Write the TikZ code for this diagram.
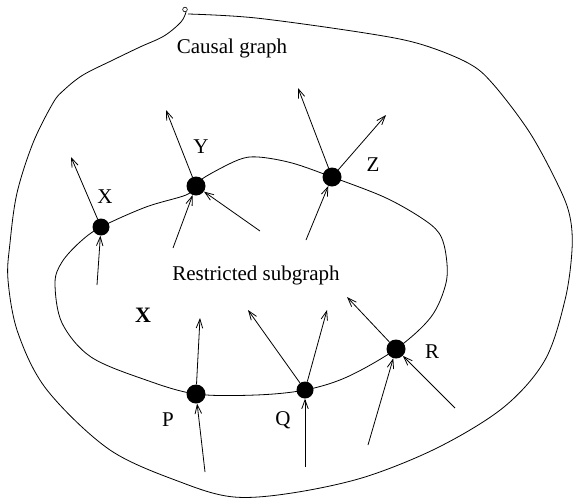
\documentclass[tikz,border=0pt]{standalone}
\usepackage{fontspec}
\setmainfont{Liberation Serif}
\usetikzlibrary{arrows.meta}
\begin{document}
\begin{tikzpicture}[x=1pt,y=-1pt,
  curve/.style={line width=0.8pt},
  dot/.style={circle,fill=black,inner sep=0pt,minimum size=19pt},
  smalldot/.style={circle,fill=black,inner sep=0pt,minimum size=17pt},
  lbl/.style={font=\fontsize{21}{24}\selectfont,inner sep=0pt},
  arr/.style={line width=0.8pt,-{Straight Barb[length=9pt,width=6.5pt,line width=0.8pt]}}]
\useasboundingbox (0,0) rectangle (573,498);
% outer curve (causal graph)
\draw[curve] plot[smooth,tension=0.55] coordinates {
 (188,14) (256,18) (365,33) (420,44) (468,63) (493,84) (530,133) (559,187)
 (570,217) (572,250) (565,300) (545,360) (504,407) (439,447) (365,477)
 (292,493) (234,497) (183,483) (110,450) (47,390) (18,333) (8,280) (10,243)
 (17,193) (33,143) (53,103) (64,90) (83,75) (113,60) (140,47) (164,36) (181,22) (186,12)};
\draw[line width=0.6pt] (185,9.5) circle [radius=2.3pt];
% inner curve (restricted subgraph)
\draw[curve] plot[smooth cycle,tension=0.55] coordinates {
 (101,227) (146,207) (186,195) (196,186) (205,177) (238,160) (258,157)
 (292,163) (332,177) (384,197) (420,217) (439,233) (446,255) (446,283)
 (431,317) (396,349) (347,377) (305,390) (256,395) (196,394) (146,380)
 (91,357) (62,323) (55,283) (62,262) (80,242)};
% nodes
\node[smalldot] (X) at (101,227) {};
\node[dot] (Y) at (196,186) {};
\node[dot] (Z) at (332,177) {};
\node[dot] (R) at (396,349) {};
\node[smalldot] (Q) at (305,390) {};
\node[dot] (P) at (196,394) {};
% labels
\node[lbl] (lX) at (105,197) {X};
\node[lbl] (lY) at (201,147) {Y};
\node[lbl] (lZ) at (373,165) {Z};
\node[lbl] (lR) at (432,352) {R};
\node[lbl] (lQ) at (283,420) {Q};
\node[lbl] (lP) at (168,420) {P};
\node[font=\fontsize{22}{26}\selectfont\bfseries,inner sep=0pt] (bX) at (143,315) {X};
\node[lbl] (cg) at (232,48) {Causal graph};
\node[lbl] (rs) at (256,275) {Restricted subgraph};
% free ends
\coordinate (x1) at (71,157);
\coordinate (x2) at (97,285);
\coordinate (y1) at (166,110);
\coordinate (y2) at (173,248);
\coordinate (y3) at (260,231);
\coordinate (z1) at (298,88);
\coordinate (z2) at (386,115);
\coordinate (z3) at (306,240);
\coordinate (p1) at (200,318);
\coordinate (p2) at (205,472);
\coordinate (q1) at (248,310);
\coordinate (q2) at (327,310);
\coordinate (q3) at (305,467);
\coordinate (r1) at (347,297);
\coordinate (r2) at (368,445);
\coordinate (r3) at (455,408);
% arrows
\draw[arr] (X) -- (x1);
\draw[arr] (x2) -- (X);
\draw[arr] (Y) -- (y1);
\draw[arr] (y2) -- (Y);
\draw[arr] (y3) -- (Y);
\draw[arr] (Z) -- (z1);
\draw[arr] (Z) -- (z2);
\draw[arr] (z3) -- (Z);
\draw[arr] (P) -- (p1);
\draw[arr] (p2) -- (P);
\draw[arr] (Q) -- (q1);
\draw[arr] (Q) -- (q2);
\draw[arr] (q3) -- (Q);
\draw[arr] (R) -- (r1);
\draw[arr] (r2) -- (R);
\draw[arr] (r3) -- (R);
\end{tikzpicture}
\end{document}
